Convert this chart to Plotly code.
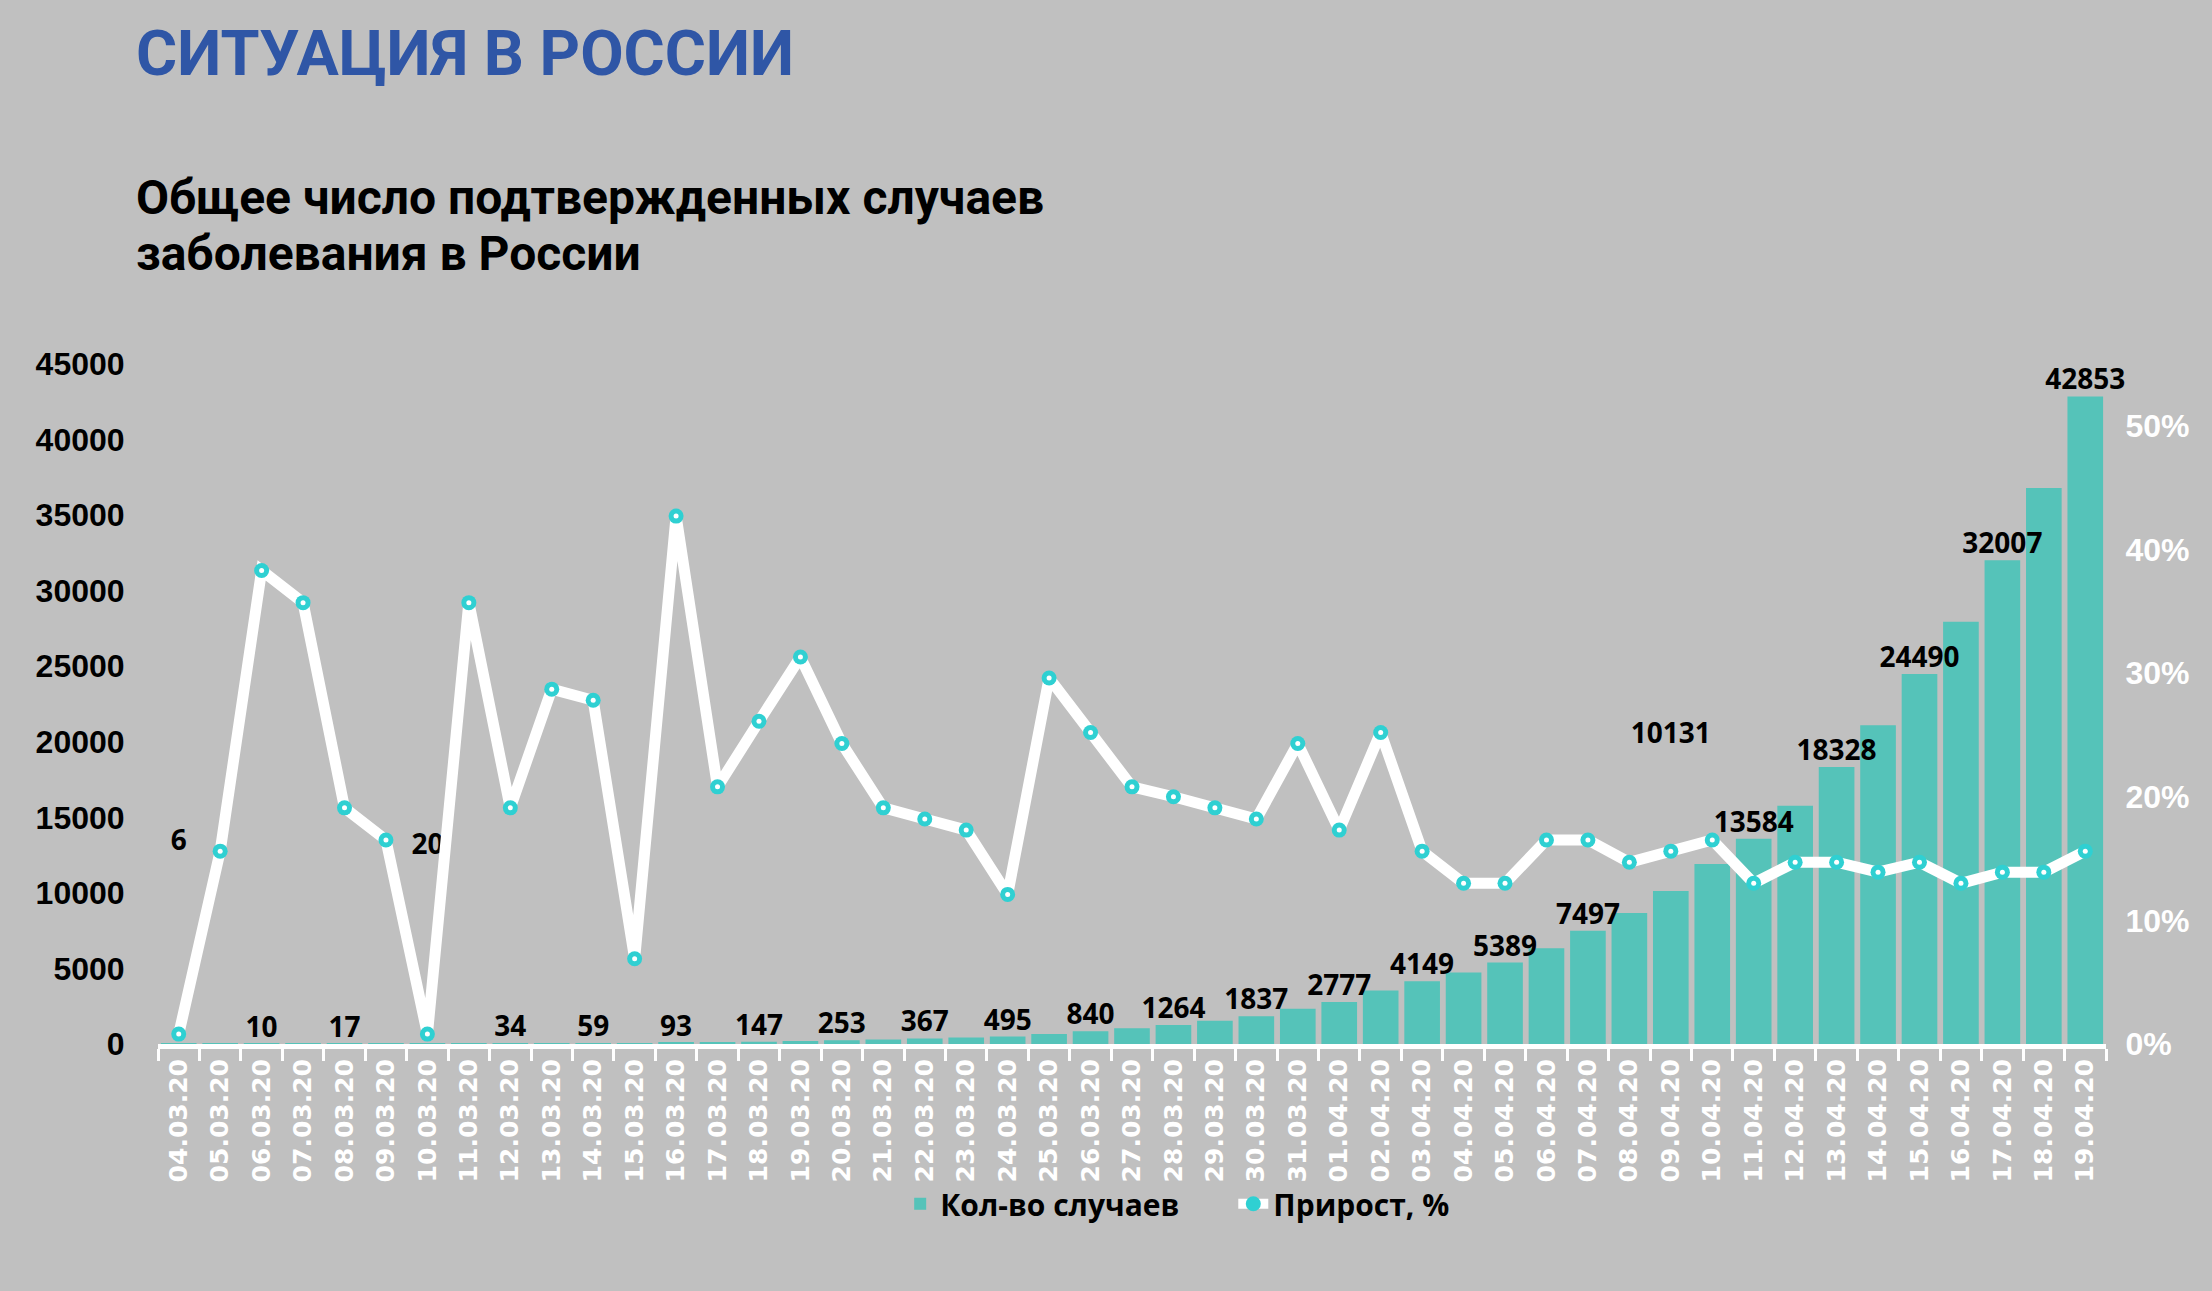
import plotly.graph_objects as go

dates = ["04.03.20","05.03.20","06.03.20","07.03.20","08.03.20","09.03.20","10.03.20","11.03.20",
         "12.03.20","13.03.20","14.03.20","15.03.20","16.03.20","17.03.20","18.03.20","19.03.20",
         "20.03.20","21.03.20","22.03.20","23.03.20","24.03.20","25.03.20","26.03.20","27.03.20",
         "28.03.20","29.03.20","30.03.20","31.03.20","01.04.20","02.04.20","03.04.20","04.04.20",
         "05.04.20","06.04.20","07.04.20","08.04.20","09.04.20","10.04.20","11.04.20","12.04.20",
         "13.04.20","14.04.20","15.04.20","16.04.20","17.04.20","18.04.20","19.04.20"]

cases = [6, 7, 10, 13, 17, 17, 20, 28, 34, 45, 59, 63, 93, 114, 147, 199,
         253, 306, 367, 438, 495, 658, 840, 1036, 1264, 1534, 1837, 2337, 2777, 3548,
         4149, 4731, 5389, 6343, 7497, 8672, 10131, 11917, 13584, 15770, 18328, 21102,
         24490, 27938, 32007, 36793, 42853]

growth = [0.8, 15.6, 38.3, 35.7, 19.1, 16.5, 0.8, 35.7, 19.1, 28.7, 27.8, 6.9, 42.7, 20.8,
          26.1, 31.3, 24.3, 19.1, 18.2, 17.3, 12.1, 29.6, 25.2, 20.8, 20.0, 19.1, 18.2, 24.3,
          17.3, 25.2, 15.6, 13.0, 13.0, 16.5, 16.5, 14.7, 15.6, 16.5, 13.0, 14.7, 14.7, 13.9,
          14.7, 13.0, 13.9, 13.9, 15.6]

# indices of labelled bars (every second bar)
label_idx = list(range(0, len(dates), 2))
# labels that were moved away from the bar top in the original (index -> y in case units)
moved_labels = {0: 13300, 6: 13050, 36: 20400}

y_ticks_left = [0, 5000, 10000, 15000, 20000, 25000, 30000, 35000, 40000, 45000]
y_ticks_right = [0, 10, 20, 30, 40, 50]

title_text = "СИТУАЦИЯ В РОССИИ"
subtitle_lines = ["Общее число подтвержденных случаев", "заболевания в России"]

BG = "#c0c0c0"
BAR = "#55c3b9"
MARK = "#2fd0d2"
LABEL_FONT = dict(family="Open Sans", size=28, color="black", weight="bold")
LEGEND_FONT = dict(family="Open Sans", size=30, color="black", weight="bold")

fig = go.Figure()

fig.add_trace(go.Bar(
    x=dates, y=cases, name="Кол-во случаев",
    marker=dict(color=BAR, line=dict(width=0)),
    yaxis="y", hoverinfo="x+y", legend="legend"))

reg_idx = [i for i in label_idx if i not in moved_labels]
fig.add_trace(go.Scatter(
    x=[dates[i] for i in reg_idx], y=[cases[i] for i in reg_idx],
    text=[str(cases[i]) for i in reg_idx], mode="text", textposition="top center",
    textfont=LABEL_FONT, showlegend=False, hoverinfo="skip", yaxis="y", cliponaxis=False))

mv_idx = [i for i in label_idx if i in moved_labels]
fig.add_trace(go.Scatter(
    x=[dates[i] for i in mv_idx], y=[moved_labels[i] for i in mv_idx],
    text=[str(cases[i]) for i in mv_idx], mode="text", textposition="middle center",
    textfont=LABEL_FONT, showlegend=False, hoverinfo="skip", yaxis="y", cliponaxis=False))

fig.add_trace(go.Scatter(
    x=dates, y=growth, name="Прирост, %", mode="lines+markers",
    line=dict(color="white", width=11),
    marker=dict(color=MARK, size=15, line=dict(width=0)),
    yaxis="y2", cliponaxis=False, legend="legend2"))

fig.add_trace(go.Scatter(
    x=dates, y=growth, mode="markers", showlegend=False, hoverinfo="skip",
    marker=dict(color="white", size=5, line=dict(width=0)),
    yaxis="y2", cliponaxis=False))

fig.update_layout(
    width=2212, height=1291,
    paper_bgcolor=BG, plot_bgcolor=BG,
    margin=dict(l=158, r=106, t=364, b=247),
    bargap=0.14,
    showlegend=True,
    legend=dict(orientation="h", x=0.381, xanchor="left", y=-0.235, yanchor="middle",
                font=LEGEND_FONT, bgcolor="rgba(0,0,0,0)", itemwidth=30),
    legend2=dict(orientation="h", x=0.552, xanchor="left", y=-0.235, yanchor="middle",
                 font=LEGEND_FONT, bgcolor="rgba(0,0,0,0)", itemwidth=30),
    xaxis=dict(type="category", tickangle=-90, range=[-0.5, len(dates) - 0.5],
               tickfont=dict(family="DejaVu Sans", size=25, color="white", weight="bold"),
               showline=True, linecolor="white", linewidth=5,
               ticks="outside", tickson="boundaries", tickcolor="white", ticklen=12, tickwidth=3,
               showgrid=False, zeroline=False),
    yaxis=dict(range=[0, 45001], tickvals=y_ticks_left, ticktext=[str(v) for v in y_ticks_left],
               tickfont=dict(family="Liberation Sans", size=32, color="black", weight="bold"),
               showgrid=False, zeroline=False, showline=False,
               ticks="outside", ticklen=26, tickcolor="rgba(0,0,0,0)"),
    yaxis2=dict(range=[0, 55.0012], tickvals=y_ticks_right,
                ticktext=[f"{v}%" for v in y_ticks_right],
                overlaying="y", side="right",
                tickfont=dict(family="Liberation Sans", size=32, color="white", weight="bold"),
                showgrid=False, zeroline=False, showline=False,
                ticks="outside", ticklen=12, tickcolor="rgba(0,0,0,0)"),
)

fig.add_annotation(
    text=title_text, xref="paper", yref="paper", x=-0.0123, y=1.456,
    xanchor="left", yanchor="middle", showarrow=False,
    font=dict(family="Roboto", size=63, color="#2f56a6", weight="bold"))

for line, ypos in zip(subtitle_lines, [1.245, 1.162]):
    fig.add_annotation(
        text=line, xref="paper", yref="paper", x=-0.0123, y=ypos,
        xanchor="left", yanchor="middle", align="left", showarrow=False,
        font=dict(family="Roboto", size=48, color="black", weight="bold"))

fig.write_html("out.html", config={"displayModeBar": False},
               post_script="document.body.style.margin='0';document.body.style.overflow='hidden';")
